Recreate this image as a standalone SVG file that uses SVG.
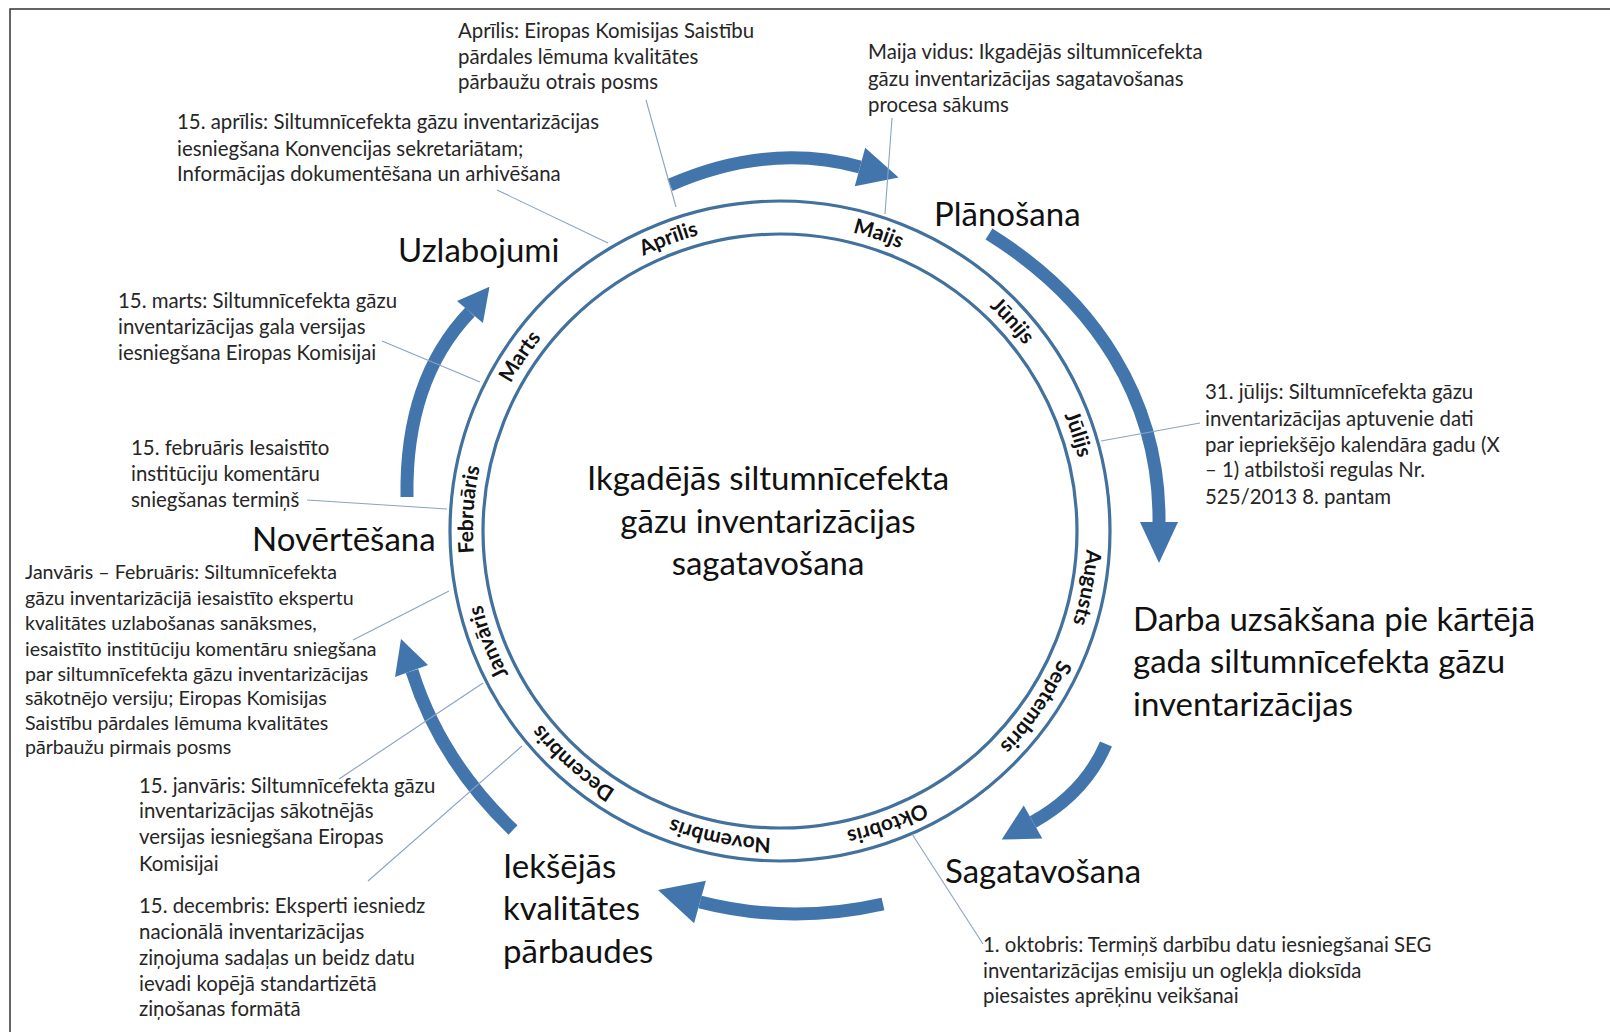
<svg xmlns="http://www.w3.org/2000/svg" xmlns:xlink="http://www.w3.org/1999/xlink" width="1610" height="1032" viewBox="0 0 1610 1032">
<defs>
<style>
.ann{font-family:Lato,"Liberation Sans",sans-serif;font-size:20.4px;fill:#262626;}
.ann2{font-family:Lato,"Liberation Sans",sans-serif;font-size:19.6px;fill:#262626;}
.stage{font-family:Lato,"Liberation Sans",sans-serif;font-size:33px;fill:#111;}
.ctr{font-family:Lato,"Liberation Sans",sans-serif;font-size:33px;fill:#111;text-anchor:middle;}
.mon{font-family:Lato,"Liberation Sans",sans-serif;font-size:21px;font-weight:bold;fill:#111;}
.ring{fill:none;stroke:#41719C;stroke-width:3.2;}
.shaft{fill:none;stroke:#4275AB;stroke-width:13;stroke-linecap:butt;}
.head{fill:#4275AB;}
.lead{fill:none;stroke:#8AA3C4;stroke-width:1.1;}
</style>
<path id="mpath" d="M 780,224 A 307,307 0 1,1 780,838 A 307,307 0 1,1 780,224"/>
</defs>
<rect x="0" y="0" width="1610" height="1032" fill="#fff"/>
<path d="M 10,1032 L 10,9 L 1610,9" fill="none" stroke="#333" stroke-width="1.5"/>

<g id="ring">
<circle class="ring" cx="780" cy="531" r="330"/>
<circle class="ring" cx="780" cy="531" r="297"/>
<text class="mon"><textPath href="#mpath" startOffset="94.2%" text-anchor="middle">Aprīlis</textPath></text>
<text class="mon"><textPath href="#mpath" startOffset="5.1%" text-anchor="middle">Maijs</textPath></text>
<text class="mon"><textPath href="#mpath" startOffset="13.3%" text-anchor="middle">Jūnijs</textPath></text>
<text class="mon"><textPath href="#mpath" startOffset="20%" text-anchor="middle">Jūlijs</textPath></text>
<text class="mon"><textPath href="#mpath" startOffset="27.9%" text-anchor="middle">Augusts</textPath></text>
<text class="mon"><textPath href="#mpath" startOffset="34.6%" text-anchor="middle">Septembris</textPath></text>
<text class="mon"><textPath href="#mpath" startOffset="44.4%" text-anchor="middle">Oktobris</textPath></text>
<text class="mon"><textPath href="#mpath" startOffset="53.1%" text-anchor="middle">Novembris</textPath></text>
<text class="mon"><textPath href="#mpath" startOffset="61.6%" text-anchor="middle">Decembris</textPath></text>
<text class="mon"><textPath href="#mpath" startOffset="69.2%" text-anchor="middle">Janvāris</textPath></text>
<text class="mon"><textPath href="#mpath" startOffset="76.1%" text-anchor="middle">Februāris</textPath></text>
<text class="mon"><textPath href="#mpath" startOffset="84.4%" text-anchor="middle">Marts</textPath></text>
</g>

<g id="center-title">
<text class="ctr" x="768" y="490">Ikgadējās siltumnīcefekta</text>
<text class="ctr" x="768" y="533">gāzu inventarizācijas</text>
<text class="ctr" x="768" y="575">sagatavošana</text>
</g>

<g id="connectors">
<path class="shaft" d="M 670,185 Q 768,142 860,167"/>
<polygon class="head" points="854.8,186.3 865.2,147.7 898.6,177.5"/>
<path class="shaft" d="M 989,234 C 1095,300 1160,400 1159,522"/>
<polygon class="head" points="1140,522 1178,522 1159,563"/>
<path class="shaft" d="M 1106,744 Q 1085,793 1033,822"/>
<polygon class="head" points="1042.3,838.5 1023.7,805.5 1001.7,839.6"/>
<path class="shaft" d="M 883,904 Q 790,925 700,902"/>
<polygon class="head" points="705.9,880.8 694.1,923.2 658,890"/>
<path class="shaft" d="M 513,830 Q 440,760 412,671"/>
<polygon class="head" points="395,677 428,665 401,639"/>
<path class="shaft" d="M 407,497 Q 405,380 470,312"/>
<polygon class="head" points="482.9,323 457,301 489.5,286.7"/>
<line class="lead" x1="646" y1="100" x2="676" y2="207"/>
<line class="lead" x1="892" y1="118" x2="885" y2="214"/>
<line class="lead" x1="497" y1="190" x2="608" y2="243"/>
<line class="lead" x1="382" y1="341" x2="480" y2="382"/>
<line class="lead" x1="307" y1="500" x2="447" y2="509"/>
<line class="lead" x1="353" y1="640" x2="449" y2="591"/>
<line class="lead" x1="339" y1="779" x2="483" y2="683"/>
<line class="lead" x1="368" y1="881" x2="522" y2="746"/>
<line class="lead" x1="1101" y1="441" x2="1200" y2="423"/>
<line class="lead" x1="912" y1="834" x2="983" y2="944"/>
</g>

<g id="stage-planosana"><text class="stage" x="934" y="226">Plānošana</text></g>
<g id="stage-darba">
<text class="stage" x="1133" y="631">Darba uzsākšana pie kārtējā</text>
<text class="stage" x="1133" y="673">gada siltumnīcefekta gāzu</text>
<text class="stage" x="1133" y="716">inventarizācijas</text>
</g>
<g id="stage-sagatavosana"><text class="stage" x="945" y="883">Sagatavošana</text></g>
<g id="stage-iekšējās">
<text class="stage" x="503" y="878">Iekšējās</text>
<text class="stage" x="503" y="920">kvalitātes</text>
<text class="stage" x="503" y="963">pārbaudes</text>
</g>
<g id="stage-novertesana"><text class="stage" x="252" y="551">Novērtēšana</text></g>
<g id="stage-uzlabojumi"><text class="stage" x="398" y="262">Uzlabojumi</text></g>

<g id="note-aprilis">
<text class="ann" x="458" y="38">Aprīlis: Eiropas Komisijas Saistību</text>
<text class="ann" x="458" y="64">pārdales lēmuma kvalitātes</text>
<text class="ann" x="458" y="89">pārbaužu otrais posms</text>
</g>
<g id="note-maijs">
<text class="ann" x="868" y="59">Maija vidus: Ikgadējās siltumnīcefekta</text>
<text class="ann" x="868" y="86">gāzu inventarizācijas sagatavošanas</text>
<text class="ann" x="868" y="112">procesa sākums</text>
</g>
<g id="note-15aprilis">
<text class="ann" x="177" y="129">15. aprīlis: Siltumnīcefekta gāzu inventarizācijas</text>
<text class="ann" x="177" y="156">iesniegšana Konvencijas sekretariātam;</text>
<text class="ann" x="177" y="181">Informācijas dokumentēšana un arhivēšana</text>
</g>
<g id="note-marts">
<text class="ann" x="118" y="308">15. marts: Siltumnīcefekta gāzu</text>
<text class="ann" x="118" y="334">inventarizācijas gala versijas</text>
<text class="ann" x="118" y="360">iesniegšana Eiropas Komisijai</text>
</g>
<g id="note-februaris">
<text class="ann" x="131" y="455">15. februāris Iesaistīto</text>
<text class="ann" x="131" y="481">institūciju komentāru</text>
<text class="ann" x="131" y="507">sniegšanas termiņš</text>
</g>
<g id="note-janfeb">
<text class="ann2" x="25" y="579">Janvāris – Februāris: Siltumnīcefekta</text>
<text class="ann2" x="25" y="605">gāzu inventarizācijā iesaistīto ekspertu</text>
<text class="ann2" x="25" y="630">kvalitātes uzlabošanas sanāksmes,</text>
<text class="ann2" x="25" y="656">iesaistīto institūciju komentāru sniegšana</text>
<text class="ann2" x="25" y="681">par siltumnīcefekta gāzu inventarizācijas</text>
<text class="ann2" x="25" y="705">sākotnējo versiju; Eiropas Komisijas</text>
<text class="ann2" x="25" y="730">Saistību pārdales lēmuma kvalitātes</text>
<text class="ann2" x="25" y="754">pārbaužu pirmais posms</text>
</g>
<g id="note-janvaris">
<text class="ann" x="139" y="793">15. janvāris: Siltumnīcefekta gāzu</text>
<text class="ann" x="139" y="818">inventarizācijas sākotnējās</text>
<text class="ann" x="139" y="844">versijas iesniegšana Eiropas</text>
<text class="ann" x="139" y="871">Komisijai</text>
</g>
<g id="note-decembris">
<text class="ann" x="139" y="913">15. decembris: Eksperti iesniedz</text>
<text class="ann" x="139" y="939">nacionālā inventarizācijas</text>
<text class="ann" x="139" y="965">ziņojuma sadaļas un beidz datu</text>
<text class="ann" x="139" y="991">ievadi kopējā standartizētā</text>
<text class="ann" x="139" y="1016">ziņošanas formātā</text>
</g>
<g id="note-julijs">
<text class="ann" x="1205" y="399">31. jūlijs: Siltumnīcefekta gāzu</text>
<text class="ann" x="1205" y="426">inventarizācijas aptuvenie dati</text>
<text class="ann" x="1205" y="452">par iepriekšējo kalendāra gadu (X</text>
<text class="ann" x="1205" y="477">– 1) atbilstoši regulas Nr.</text>
<text class="ann" x="1205" y="504">525/2013 8. pantam</text>
</g>
<g id="note-oktobris">
<text class="ann" x="983" y="952">1. oktobris: Termiņš darbību datu iesniegšanai SEG</text>
<text class="ann" x="983" y="978">inventarizācijas emisiju un oglekļa dioksīda</text>
<text class="ann" x="983" y="1003">piesaistes aprēķinu veikšanai</text>
</g>
</svg>
